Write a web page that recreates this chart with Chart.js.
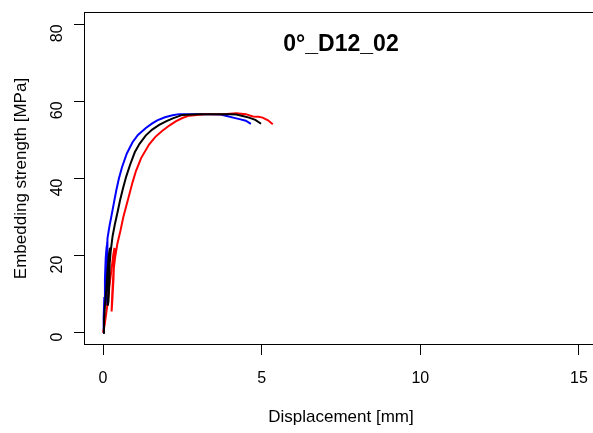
<!DOCTYPE html>
<html>
<head>
<meta charset="utf-8">
<script src="https://cdn.jsdelivr.net/npm/chart.js@4/dist/chart.umd.min.js"></script>
<style>
  html, body { margin: 0; padding: 0; overflow: hidden; background: #fff; }
  #wrap { position: relative; width: 600px; height: 433px; }
</style>
</head>
<body>
<div id="wrap"><canvas id="c"></canvas></div>
<script>
// ---- data ----
const chartTitle = "0°_D12_02";
const xAxisTitle = "Displacement [mm]";
const yAxisTitle = "Embedding strength [MPa]";
const xTickValues = [0, 5, 10, 15];
const yTickValues = [0, 20, 40, 60, 80];

const blueX = [0, 0.02, 0.04, 0.06, 0.085, 0.11, 0.14, 0.13, 0.11, 0.1, 0.12, 0.14, 0.2, 0.27, 0.35, 0.42, 0.5, 0.6, 0.75, 0.93, 1.1, 1.35, 1.55, 1.71, 1.95, 2.19, 2.4, 3.0, 3.4, 3.7, 3.9, 4.1, 4.3, 4.5, 4.66];
const blueY = [0, 4, 9, 14, 19.5, 22, 23.5, 15, 8, 7, 14, 24.5, 27.5, 30.5, 34, 37, 40, 43, 46.5, 49.4, 51.3, 53.1, 54.3, 55.1, 55.9, 56.4, 56.7, 56.7, 56.7, 56.6, 56.2, 55.8, 55.4, 55.0, 54.2];

const blackX = [0, 0.03, 0.06, 0.1, 0.14, 0.18, 0.22, 0.2, 0.17, 0.15, 0.17, 0.21, 0.24, 0.3, 0.37, 0.45, 0.54, 0.63, 0.73, 0.85, 1.0, 1.15, 1.35, 1.55, 1.77, 2.0, 2.2, 2.5, 3.0, 3.5, 4.0, 4.2, 4.4, 4.6, 4.8, 4.98];
const blackY = [0, 3, 7, 11, 16, 20, 22, 14, 8, 7, 12, 18, 21, 25, 28, 31, 34.5, 37.5, 40.5, 43.5, 46.8, 49, 51.2, 52.7, 53.9, 54.9, 55.6, 56.5, 56.7, 56.7, 56.7, 56.6, 56.2, 55.8, 55.2, 54.2];

const redX = [0, 0.05, 0.1, 0.15, 0.2, 0.26, 0.32, 0.36, 0.33, 0.29, 0.27, 0.29, 0.33, 0.38, 0.45, 0.55, 0.64, 0.73, 0.82, 0.93, 1.04, 1.2, 1.45, 1.65, 1.87, 2.1, 2.29, 2.5, 2.71, 3.2, 3.8, 4.2, 4.5, 4.72, 4.9, 5.03, 5.2, 5.35];
const redY = [0, 2, 5, 8, 12, 16, 20, 22, 14, 8, 5.5, 10, 16, 19.5, 23, 26.5, 30, 32.8, 35.6, 39, 42, 45.3, 48.8, 50.8, 52.4, 53.8, 54.8, 55.7, 56.3, 56.7, 56.7, 56.9, 56.7, 56.1, 56, 55.8, 55.1, 54.1];

function pts(xs, ys) { return xs.map((x, i) => ({ x: x, y: ys[i] })); }

const FONT = "'Liberation Sans', Arial, sans-serif";

const decor = {
  id: 'decor',
  afterDraw(chart) {
    const ctx = chart.ctx;
    const a = chart.chartArea;
    ctx.save();
    // box
    ctx.strokeStyle = '#000';
    ctx.lineWidth = 1;
    ctx.strokeRect(Math.round(a.left) + 0.5, Math.round(a.top) + 0.5, Math.round(a.right - a.left) - 1, Math.round(a.bottom - a.top) - 1);
    // title
    ctx.fillStyle = '#000';
    ctx.textAlign = 'center';
    ctx.textBaseline = 'middle';
    const cx = (a.left + a.right) / 2;
    ctx.font = "bold 23px " + FONT;
    ctx.fillText(chartTitle, cx, 45);
    // x axis title
    ctx.font = "17px " + FONT;
    ctx.fillText(xAxisTitle, cx, 417);
    // y axis title
    ctx.translate(21, (a.top + a.bottom) / 2);
    ctx.rotate(-Math.PI / 2);
    ctx.fillText(yAxisTitle, 0, 0);
    ctx.restore();
  }
};

new Chart(document.getElementById('c'), {
  type: 'scatter',
  data: {
    datasets: [
      { label: 'black', data: pts(blackX, blackY), borderColor: '#000000', order: 0 },
      { label: 'red', data: pts(redX, redY), borderColor: '#ff0000', order: 1 },
      { label: 'blue', data: pts(blueX, blueY), borderColor: '#0000ff', order: 2 }
    ]
  },
  options: {
    responsive: true,
    maintainAspectRatio: false,
    animation: false,
    devicePixelRatio: 1,
    layout: { padding: { top: 12, right: 2, left: 0, bottom: 0 } },
    elements: {
      line: { borderWidth: 2, fill: false, tension: 0 },
      point: { radius: 0, hoverRadius: 0 }
    },
    datasets: { scatter: { showLine: true } },
    plugins: { legend: { display: false }, tooltip: { enabled: false }, title: { display: false } },
    scales: {
      x: {
        type: 'linear',
        min: -0.6, max: 15.6,
        afterBuildTicks(s) { s.ticks = xTickValues.map(v => ({ value: v })); },
        afterFit(s) { s.height = 88; s.paddingLeft = 0; s.paddingRight = 0; },
        grid: { display: true, drawOnChartArea: false, drawTicks: true, tickLength: 10, color: '#000', lineWidth: 1 },
        border: { display: false },
        ticks: { color: '#000', font: { family: FONT, size: 16 }, padding: 14, maxRotation: 0, minRotation: 0,
          callback: v => String(v) }
      },
      y: {
        type: 'linear',
        min: -3.2, max: 83.2,
        afterBuildTicks(s) { s.ticks = yTickValues.map(v => ({ value: v })); },
        afterFit(s) { s.width = 84; s.paddingTop = 0; s.paddingBottom = 0; },
        grid: { display: true, drawOnChartArea: false, drawTicks: true, tickLength: 10, color: '#000', lineWidth: 1 },
        border: { display: false },
        ticks: { color: '#000', font: { family: FONT, size: 16 }, padding: 16, minRotation: 90, maxRotation: 90,
          callback: v => String(v) }
      }
    }
  },
  plugins: [decor]
});
</script>
</body>
</html>
